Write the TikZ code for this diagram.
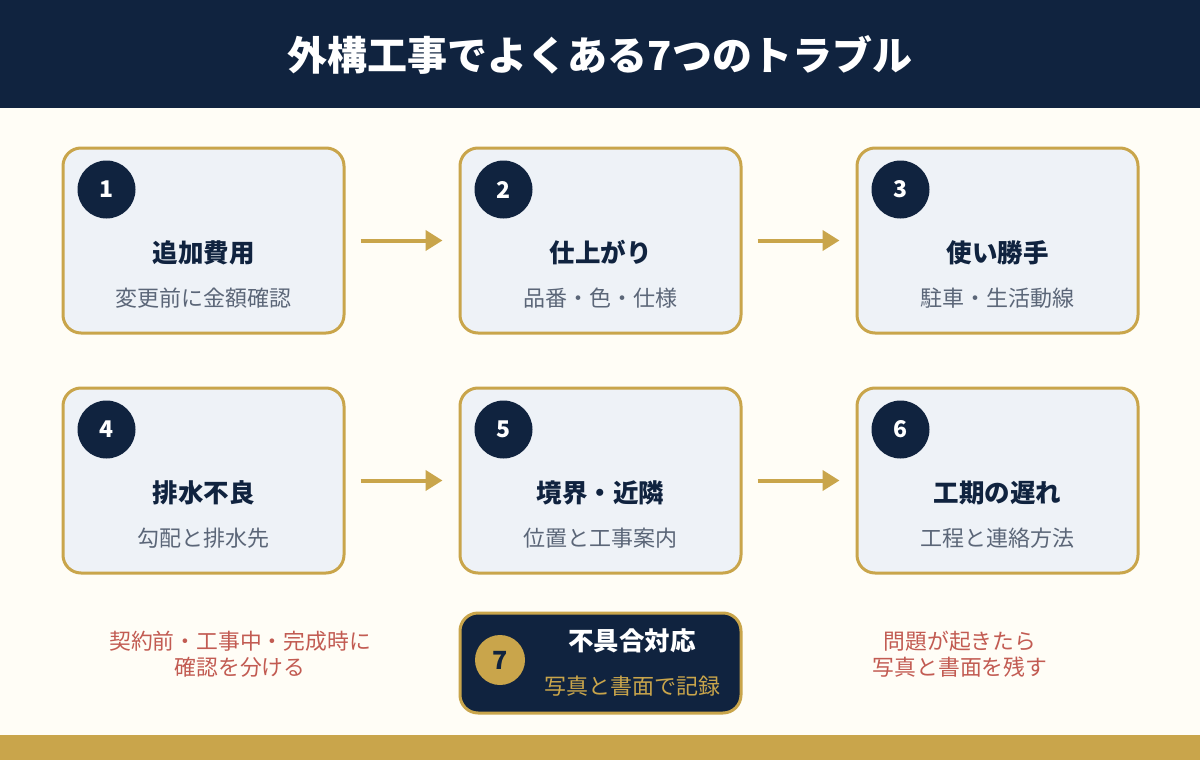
\documentclass[tikz,border=0pt]{standalone}
\usepackage{fontspec}
\setmainfont{Noto Sans CJK JP}
\usetikzlibrary{arrows.meta}
\definecolor{navy}{HTML}{10233F}
\definecolor{gold}{HTML}{C9A54B}
\definecolor{cream}{HTML}{FFFDF6}
\definecolor{boxfill}{HTML}{EEF2F7}
\definecolor{subgray}{HTML}{5B6678}
\definecolor{notered}{HTML}{C25B52}
\tikzset{
  card/.style={draw=gold, line width=3pt, fill=boxfill, rounded corners=18pt, minimum width=281pt, minimum height=185pt, inner sep=0pt},
  darkcard/.style={draw=gold, line width=3pt, fill=navy, rounded corners=18pt, minimum width=281pt, minimum height=100pt, inner sep=0pt},
  badge/.style={circle, fill=navy, minimum size=58pt, inner sep=0pt, text=white, font=\fontsize{23}{27}\selectfont\bfseries},
  goldbadge/.style={circle, fill=gold, minimum size=50pt, inner sep=0pt, text=navy, font=\fontsize{25}{29}\selectfont\bfseries},
  ctitle/.style={text=navy, font=\fontsize{25.5}{30}\selectfont\bfseries, inner sep=0pt},
  csub/.style={text=subgray, font=\fontsize{22}{26}\selectfont, inner sep=0pt},
  note/.style={text=notered, font=\fontsize{21.8}{26}\selectfont, align=center, inner sep=0pt},
  flow/.style={draw=gold, line width=4pt, -{Triangle[length=17pt,width=20pt]}, shorten <=15pt, shorten >=16pt}
}
\begin{document}
\begin{tikzpicture}[x=1pt,y=-1pt]
\useasboundingbox (0,0) rectangle (1200,760);
\fill[cream] (0,0) rectangle (1200,760);
\fill[navy] (0,0) rectangle (1200,108);
\fill[gold] (0,735) rectangle (1200,760);
\node[text=white, font=\fontsize{40}{46}\selectfont\bfseries, inner sep=0pt] (title) at (600,55) {外構工事でよくある7つのトラブル};

% row 1
\node[card] (b1) at (203.5,240.5) {};
\node[card] (b2) at (600.5,240.5) {};
\node[card] (b3) at (997.5,240.5) {};
% row 2
\node[card] (b4) at (203.5,480.5) {};
\node[card] (b5) at (600.5,480.5) {};
\node[card] (b6) at (997.5,480.5) {};
% box 7
\node[darkcard] (b7) at (600.5,663) {};

\foreach \b/\n/\t/\s in {b1/1/追加費用/変更前に金額確認, b2/2/仕上がり/品番・色・仕様, b3/3/使い勝手/駐車・生活動線, b4/4/排水不良/勾配と排水先, b5/5/境界・近隣/位置と工事案内, b6/6/工期の遅れ/工程と連絡方法}{
  \node[badge] (\b n) at ([xshift=45pt,yshift=-43pt]\b.north west) {\n};
  \node[ctitle] (\b t) at ([yshift=-12pt]\b.center) {\t};
  \node[csub] (\b s) at ([yshift=-58pt]\b.center) {\s};
}

\node[goldbadge] (b7n) at (500,660) {7};
\node[text=white, font=\fontsize{25.5}{30}\selectfont\bfseries, inner sep=0pt] (b7t) at (632,641) {不具合対応};
\node[text=gold, font=\fontsize{22}{26}\selectfont, inner sep=0pt] (b7s) at (632,686) {写真と書面で記録};

\draw[flow] (b1) -- (b2);
\draw[flow] (b2) -- (b3);
\draw[flow] (b4) -- (b5);
\draw[flow] (b5) -- (b6);

\node[note] (nl) at (240,654) {契約前・工事中・完成時に\\確認を分ける};
\node[note] (nr) at (960,654) {問題が起きたら\\写真と書面を残す};
\end{tikzpicture}
\end{document}
